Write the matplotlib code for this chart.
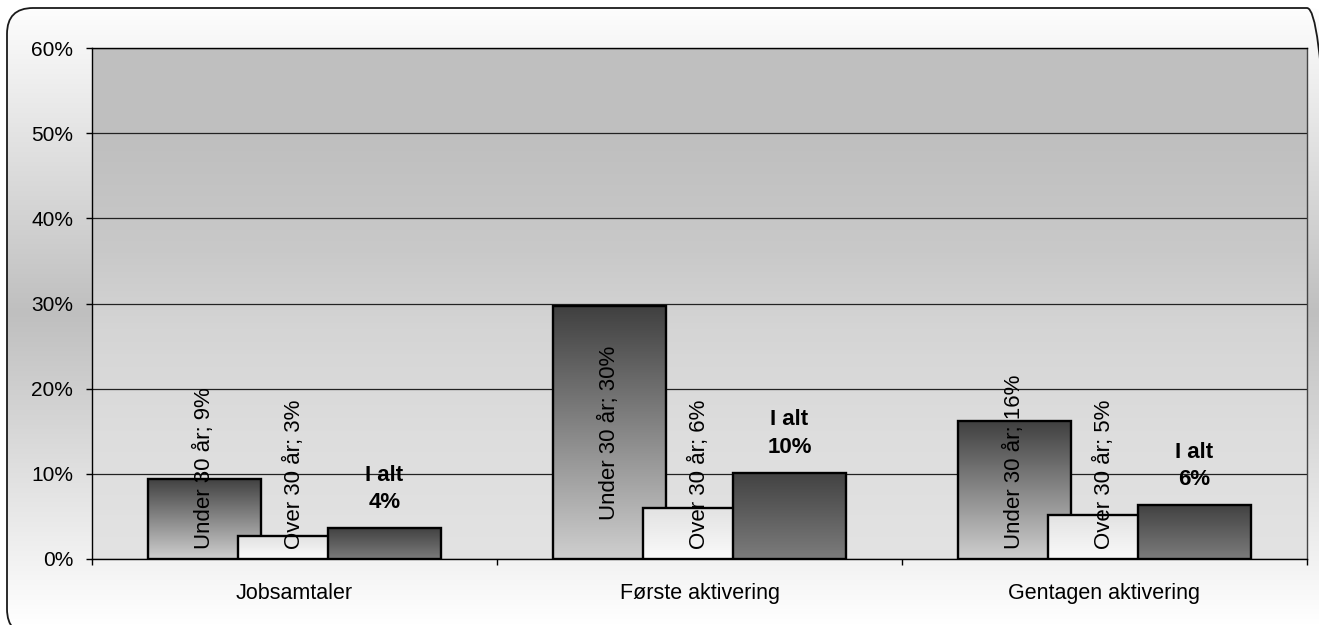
import matplotlib
matplotlib.use("Agg")
import matplotlib.pyplot as plt
import numpy as np
from matplotlib.patches import FancyBboxPatch
from matplotlib.colors import LinearSegmentedColormap

# Data (percent)
categories = ["Jobsamtaler", "Første aktivering", "Gentagen aktivering"]
series_names = ["Under 30 år", "Over 30 år", "I alt"]
under_30 = [9.4, 29.7, 16.2]
over_30 = [2.7, 6.0, 5.2]
i_alt = [3.6, 10.1, 6.3]
y_ticks = [0, 10, 20, 30, 40, 50, 60]

plt.rcParams["font.family"] = ["Liberation Sans", "DejaVu Sans"]

W, H = 1319, 625
fig = plt.figure(figsize=(W / 100, H / 100), dpi=100)
fig.patch.set_facecolor("white")

# Background: rounded frame with a white -> grey -> white vertical gradient
bg = fig.add_axes([0, 0, 1, 1])
bg.set_xlim(0, W)
bg.set_ylim(0, H)
bg.axis("off")
frame = FancyBboxPatch((7, -10), 1326, 627, boxstyle="round,pad=0,rounding_size=26",
                       facecolor="none", edgecolor="#1a1a1a", linewidth=1.3, zorder=3)
bg.add_patch(frame)
bg_cmap = LinearSegmentedColormap.from_list(
    "bgfig", [(0, "#ffffff"), (0.5, "#bfbfbf"), (1, "#ffffff")])
grad = np.linspace(0, 1, 256).reshape(-1, 1)
im = bg.imshow(grad, cmap=bg_cmap, extent=[0, W, 0, H], aspect="auto", zorder=1)
im.set_clip_path(frame)
bg.set_xlim(0, W)
bg.set_ylim(0, H)

# Main plot
ax = fig.add_axes([92 / W, 66 / H, 1215 / W, 511 / H])
ax.set_facecolor("none")
ax.set_xlim(-0.5, len(categories) - 0.5)
ax.set_ylim(0, 60)

# Plot area gradient (grey at top, lighter towards the bottom)
plot_cmap = LinearSegmentedColormap.from_list(
    "plotbg", [(0, "#e3e3e3"), (0.25, "#dddddd"), (0.45, "#d5d5d5"),
               (0.6, "#c9c9c9"), (0.8, "#c0c0c0"), (1, "#bfbfbf")])
ax.imshow(grad[::-1], cmap=plot_cmap, extent=[-0.5, len(categories) - 0.5, 0, 60],
          aspect="auto", zorder=0)

ax.yaxis.grid(True, color="#222222", linewidth=0.9, zorder=1)
ax.set_axisbelow(True)

# Bars with vertical gradients, series overlap like in Excel
spacing = 0.222
width = 0.281
bar_cmaps = [
    LinearSegmentedColormap.from_list("u30", ["#cfcfcf", "#404040"]),
    LinearSegmentedColormap.from_list("o30", ["#fafafa", "#e2e2e2"]),
    LinearSegmentedColormap.from_list("ialt", ["#7c7c7c", "#424242"]),
]
x = np.arange(len(categories))
all_series = [under_30, over_30, i_alt]

for s, values in enumerate(all_series):
    offset = (s - 1) * spacing
    z = 2 + s
    bars = ax.bar(x + offset, values, width, facecolor="none", edgecolor="black",
                  linewidth=1.7, zorder=z + 0.5)
    for rect in bars:
        x0 = rect.get_x()
        h = rect.get_height()
        gi = ax.imshow(grad, cmap=bar_cmaps[s], extent=[x0, x0 + width, 0, h],
                       aspect="auto", origin="lower", zorder=z)
        gi.set_clip_path(rect)

# Rotated labels for the two age groups
for s in range(2):
    offset = (s - 1) * spacing
    for i, v in enumerate(all_series[s]):
        label = f"{series_names[s]}; {v:.0f}%"
        if v > 20:
            ax.annotate(label, xy=(x[i] + offset, v / 2), rotation=90, ha="center",
                        va="center", fontsize=16, zorder=10)
        else:
            ax.annotate(label, xy=(x[i] + offset, 0), xytext=(0, 7),
                        textcoords="offset points", rotation=90, ha="center",
                        va="bottom", fontsize=16, zorder=10)

# Bold total labels above the "I alt" bars
for i, v in enumerate(i_alt):
    ax.annotate(f"{series_names[2]}\n{v:.0f}%", xy=(x[i] + spacing, v), xytext=(0, 11),
                textcoords="offset points", ha="center", va="bottom", fontsize=16,
                fontweight="bold", linespacing=1.4, zorder=10)

# Axes styling
ax.set_yticks(y_ticks)
ax.set_yticklabels([f"{t}%" for t in y_ticks], fontsize=15)
ax.tick_params(axis="y", direction="out", length=4.5, width=1, pad=9, colors="black")

ax.set_xticks(np.arange(len(categories) + 1) - 0.5)
ax.set_xticklabels([])
ax.set_xticks(x, minor=True)
ax.set_xticklabels(categories, minor=True, fontsize=15.5)
ax.tick_params(axis="x", which="major", direction="out", length=4.5, width=1)
ax.tick_params(axis="x", which="minor", length=0, pad=17)

for side in ["left", "bottom", "top"]:
    ax.spines[side].set_color("black")
    ax.spines[side].set_linewidth(1)
ax.spines["right"].set_color("#444444")
ax.spines["right"].set_linewidth(1)

fig.savefig("out.png", dpi=100)
plt.close()
